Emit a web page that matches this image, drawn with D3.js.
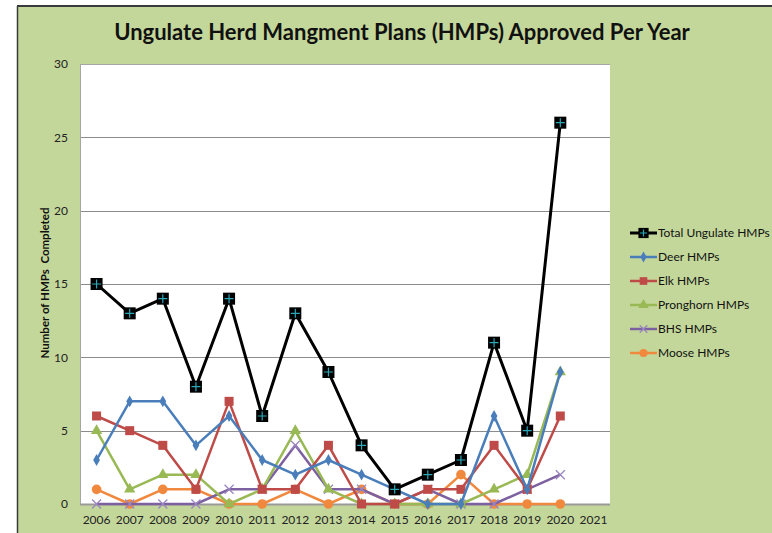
<!DOCTYPE html>
<html>
<head>
<meta charset="utf-8">
<script src="https://cdn.jsdelivr.net/npm/d3@7"></script>
<style>
  body { margin: 0; background: #fff; }
  svg { display: block; }
</style>
</head>
<body>
<div id="chart"></div>
<script>
// chart data
var years = ['2006','2007','2008','2009','2010','2011','2012','2013','2014','2015','2016','2017','2018','2019','2020','2021'];
var totalHmps     = [15, 13, 14, 8, 14, 6, 13, 9, 4, 1, 2, 3, 11, 5, 26];
var deerHmps      = [3, 7, 7, 4, 6, 3, 2, 3, 2, 1, 0, 0, 6, 1, 9];
var elkHmps       = [6, 5, 4, 1, 7, 1, 1, 4, 0, 0, 1, 1, 4, 1, 6];
var pronghornHmps = [5, 1, 2, 2, 0, 1, 5, 1, 0, 0, 0, 0, 1, 2, 9];
var bhsHmps       = [0, 0, 0, 0, 1, 1, 4, 1, 1, 0, 1, 0, 0, 1, 2];
var mooseHmps     = [1, 0, 1, 1, 0, 0, 1, 0, 1, 0, 0, 2, 0, 0, 0];
var yTicks = [0, 5, 10, 15, 20, 25, 30];

var series = [
  {name: 'Total Ungulate HMPs', values: totalHmps, color: '#000000', marker: 'total', width: 3},
  {name: 'Deer HMPs', values: deerHmps, color: '#4a7ebb', marker: 'diamond', width: 2.5},
  {name: 'Elk HMPs', values: elkHmps, color: '#be4b48', marker: 'square', width: 2.5},
  {name: 'Pronghorn HMPs', values: pronghornHmps, color: '#98b954', marker: 'triangle', width: 2.5},
  {name: 'BHS HMPs', values: bhsHmps, color: '#7d60a0', marker: 'cross', width: 2.5},
  {name: 'Moose HMPs', values: mooseHmps, color: '#f0883e', marker: 'circle', width: 2.5}
];

var W = 772, H = 533;
var plot = {left: 80, top: 64, right: 610, bottom: 504};

var svg = d3.select('#chart').append('svg').attr('width', W).attr('height', H);

// background + frame
svg.append('rect').attr('x', 17).attr('y', 6).attr('width', W - 17).attr('height', H - 6).attr('fill', '#c4d79b');
svg.append('line').attr('x1', 17).attr('x2', W).attr('y1', 6).attr('y2', 6).attr('stroke', '#3a3a3a').attr('stroke-width', 2);
svg.append('line').attr('x1', 17.5).attr('x2', 17.5).attr('y1', 6).attr('y2', H).attr('stroke', '#3a3a3a').attr('stroke-width', 1.5);

svg.append('text').attr('x', 402).attr('y', 40).attr('text-anchor', 'middle')
  .attr('font-family', 'Lato, sans-serif').attr('font-weight', 'bold').attr('font-size', 22)
  .attr('fill', '#111').text('Ungulate Herd Mangment Plans (HMPs) Approved Per Year');

svg.append('rect').attr('x', plot.left).attr('y', plot.top)
  .attr('width', plot.right - plot.left).attr('height', plot.bottom - plot.top).attr('fill', '#fff');

var x = d3.scaleBand().domain(years).range([plot.left, plot.right]);
var y = d3.scaleLinear().domain([0, 30]).range([plot.bottom, plot.top]);
var cx = function(i){ return x(years[i]) + x.bandwidth() / 2; };

// gridlines
svg.append('g').selectAll('line').data(yTicks.filter(function(d){ return d > 0; })).enter().append('line')
  .attr('x1', plot.left).attr('x2', plot.right)
  .attr('y1', function(d){ return Math.round(y(d)) + 0.5; }).attr('y2', function(d){ return Math.round(y(d)) + 0.5; })
  .attr('stroke', function(d){ return d === 30 ? '#a6a6a6' : '#8c8c8c'; }).attr('stroke-width', 1);

svg.append('line').attr('x1', plot.left + 0.5).attr('x2', plot.left + 0.5).attr('y1', plot.top).attr('y2', plot.bottom)
  .attr('stroke', '#a6a6a6');
svg.append('line').attr('x1', plot.left).attr('x2', plot.right).attr('y1', plot.bottom + 0.5).attr('y2', plot.bottom + 0.5)
  .attr('stroke', '#9a9a9a').attr('stroke-width', 2);

// axes labels
var yAxis = d3.axisLeft(y).tickValues(yTicks).tickSize(0).tickPadding(12);
var gy = svg.append('g').attr('transform', 'translate(' + plot.left + ',0)').call(yAxis);
gy.select('.domain').remove();
gy.selectAll('text').attr('font-family', 'Lato, sans-serif').attr('font-size', 12).attr('fill', '#222');

var xAxis = d3.axisBottom(x).tickSize(0).tickPadding(11);
var gx = svg.append('g').attr('transform', 'translate(0,' + plot.bottom + ')').call(xAxis);
gx.select('.domain').remove();
gx.selectAll('text').attr('font-family', 'Lato, sans-serif').attr('font-size', 12).attr('fill', '#222');

svg.append('text').attr('transform', 'translate(49,' + 283 + ') rotate(-90)').attr('text-anchor', 'middle')
  .attr('font-family', 'Lato, sans-serif').attr('font-weight', 'bold').attr('font-size', 11.5).attr('fill', '#111')
  .attr('xml:space', 'preserve').text('Number of HMPs  Completed');

function drawMarker(g, type, color, px, py, scale) {
  scale = scale || 1;
  if (type === 'total') {
    var s = 12 * scale;
    g.append('rect').attr('x', px - s / 2).attr('y', py - s / 2).attr('width', s).attr('height', s).attr('fill', '#000');
    g.append('path').attr('d', 'M' + (px - s / 2 + 1.5) + ',' + py + 'H' + (px + s / 2 - 1.5) + 'M' + px + ',' + (py - s / 2 + 1.5) + 'V' + (py + s / 2 - 1.5))
      .attr('stroke', '#2aa7b8').attr('stroke-width', 1.2);
  } else if (type === 'diamond') {
    g.append('path').attr('d', d3.symbol(d3.symbolDiamond, 40 * scale)()).attr('transform', 'translate(' + px + ',' + py + ')').attr('fill', color);
  } else if (type === 'square') {
    var q = 9 * scale;
    g.append('rect').attr('x', px - q / 2).attr('y', py - q / 2).attr('width', q).attr('height', q).attr('fill', color);
  } else if (type === 'triangle') {
    g.append('path').attr('d', d3.symbol(d3.symbolTriangle, 55 * scale)()).attr('transform', 'translate(' + px + ',' + py + ')').attr('fill', color);
  } else if (type === 'cross') {
    var c = 4.5 * scale;
    g.append('path').attr('d', 'M' + (px - c) + ',' + (py - c) + 'L' + (px + c) + ',' + (py + c) + 'M' + (px - c) + ',' + (py + c) + 'L' + (px + c) + ',' + (py - c))
      .attr('stroke', '#9a86c0').attr('stroke-width', 1.3);
  } else if (type === 'circle') {
    g.append('circle').attr('cx', px).attr('cy', py).attr('r', 4.8 * scale).attr('fill', color);
  }
}

var line = d3.line().x(function(d, i){ return cx(i); }).y(function(d){ return y(d); });

// draw from last to first so the total line is on top
series.slice().reverse().forEach(function(s){
  var g = svg.append('g');
  g.append('path').datum(s.values).attr('d', line).attr('fill', 'none')
    .attr('stroke', s.color).attr('stroke-width', s.width).attr('stroke-linejoin', 'round');
  s.values.forEach(function(v, i){ drawMarker(g, s.marker, s.color, cx(i), y(v)); });
});

// legend
var legend = svg.append('g');
series.forEach(function(s, i){
  var ly = 233 + i * 24;
  legend.append('line').attr('x1', 630).attr('x2', 657).attr('y1', ly).attr('y2', ly)
    .attr('stroke', s.color).attr('stroke-width', s.width);
  drawMarker(legend, s.marker, s.color, 643.5, ly, 0.85);
  legend.append('text').attr('x', 658).attr('y', ly + 4).attr('font-family', 'Lato, sans-serif')
    .attr('font-size', 12).attr('fill', '#111').text(s.name);
});
</script>
</body>
</html>
